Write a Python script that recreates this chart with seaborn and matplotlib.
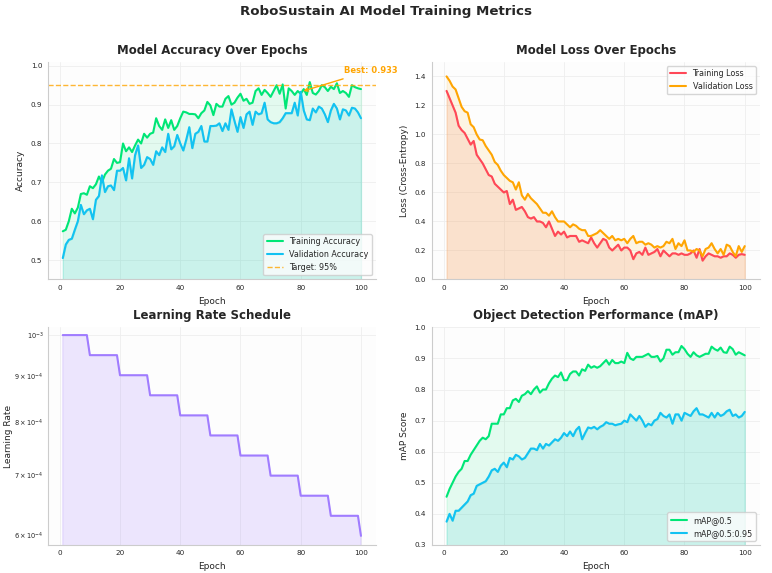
import numpy as np
import pandas as pd
import seaborn as sns
import matplotlib.pyplot as plt

epochs = list(range(1, 101))

train_acc = [0.574, 0.578, 0.600, 0.632, 0.620, 0.635, 0.670, 0.672, 0.668, 0.690,
             0.685, 0.695, 0.715, 0.700, 0.720, 0.730, 0.735, 0.760, 0.750, 0.752,
             0.800, 0.780, 0.790, 0.778, 0.795, 0.810, 0.800, 0.825, 0.815, 0.825,
             0.828, 0.865, 0.845, 0.835, 0.862, 0.840, 0.860, 0.835, 0.845, 0.865,
             0.882, 0.880, 0.876, 0.876, 0.875, 0.865, 0.878, 0.885, 0.907, 0.898,
             0.873, 0.902, 0.895, 0.895, 0.915, 0.922, 0.900, 0.905, 0.918, 0.928,
             0.910, 0.915, 0.902, 0.905, 0.935, 0.942, 0.925, 0.938, 0.930, 0.920,
             0.935, 0.950, 0.928, 0.952, 0.890, 0.942, 0.935, 0.925, 0.935, 0.928,
             0.940, 0.925, 0.958, 0.930, 0.926, 0.935, 0.950, 0.945, 0.935, 0.946,
             0.940, 0.955, 0.930, 0.935, 0.930, 0.920, 0.950, 0.945, 0.942, 0.940]

val_acc = [0.505, 0.540, 0.552, 0.555, 0.578, 0.600, 0.642, 0.618, 0.628, 0.632,
           0.605, 0.655, 0.665, 0.718, 0.675, 0.690, 0.692, 0.680, 0.730, 0.730,
           0.737, 0.705, 0.762, 0.710, 0.770, 0.795, 0.737, 0.745, 0.765, 0.760,
           0.745, 0.780, 0.770, 0.790, 0.778, 0.825, 0.785, 0.793, 0.822, 0.800,
           0.782, 0.810, 0.842, 0.788, 0.825, 0.830, 0.845, 0.805, 0.805, 0.845,
           0.845, 0.846, 0.852, 0.832, 0.852, 0.835, 0.888, 0.858, 0.830, 0.868,
           0.840, 0.875, 0.882, 0.848, 0.882, 0.875, 0.878, 0.905, 0.862, 0.855,
           0.852, 0.852, 0.855, 0.865, 0.878, 0.878, 0.878, 0.905, 0.872, 0.933,
           0.885, 0.862, 0.860, 0.890, 0.880, 0.895, 0.890, 0.875, 0.855, 0.885,
           0.902, 0.890, 0.862, 0.888, 0.885, 0.872, 0.892, 0.890, 0.880, 0.865]

train_loss = [1.30, 1.25, 1.20, 1.15, 1.06, 1.03, 1.01, 0.97, 0.93, 0.955,
              0.86, 0.83, 0.80, 0.76, 0.72, 0.71, 0.66, 0.64, 0.62, 0.60,
              0.61, 0.52, 0.55, 0.48, 0.49, 0.50, 0.47, 0.43, 0.42, 0.43,
              0.40, 0.40, 0.39, 0.36, 0.40, 0.35, 0.30, 0.33, 0.31, 0.33,
              0.29, 0.30, 0.30, 0.30, 0.26, 0.27, 0.26, 0.25, 0.29, 0.25,
              0.22, 0.25, 0.28, 0.27, 0.22, 0.20, 0.22, 0.24, 0.20, 0.22,
              0.22, 0.20, 0.14, 0.18, 0.19, 0.17, 0.22, 0.17, 0.18, 0.19,
              0.21, 0.16, 0.20, 0.18, 0.16, 0.18, 0.18, 0.17, 0.18, 0.17,
              0.17, 0.18, 0.20, 0.15, 0.21, 0.13, 0.16, 0.18, 0.17, 0.16,
              0.16, 0.15, 0.16, 0.16, 0.18, 0.17, 0.15, 0.17, 0.175, 0.17]

val_loss = [1.40, 1.37, 1.33, 1.31, 1.25, 1.19, 1.16, 1.15, 1.07, 1.05,
            1.00, 0.965, 0.96, 0.92, 0.89, 0.86, 0.81, 0.79, 0.75, 0.72,
            0.70, 0.68, 0.67, 0.62, 0.67, 0.58, 0.55, 0.59, 0.56, 0.54,
            0.52, 0.49, 0.46, 0.46, 0.44, 0.47, 0.43, 0.40, 0.40, 0.40,
            0.38, 0.36, 0.38, 0.37, 0.35, 0.34, 0.34, 0.30, 0.30, 0.31,
            0.32, 0.34, 0.32, 0.30, 0.28, 0.30, 0.27, 0.28, 0.27, 0.28,
            0.25, 0.28, 0.30, 0.25, 0.26, 0.26, 0.24, 0.25, 0.24, 0.22,
            0.23, 0.22, 0.23, 0.26, 0.25, 0.28, 0.21, 0.25, 0.23, 0.27,
            0.20, 0.20, 0.19, 0.21, 0.20, 0.16, 0.21, 0.22, 0.25, 0.21,
            0.18, 0.21, 0.17, 0.24, 0.23, 0.19, 0.16, 0.23, 0.19, 0.23]

learning_rate = ([1.0e-3] * 9 + [9.5e-4] * 10 + [9.025e-4] * 10 + [8.574e-4] * 10
                 + [8.145e-4] * 10 + [7.738e-4] * 10 + [7.351e-4] * 10 + [6.983e-4] * 10
                 + [6.634e-4] * 10 + [6.302e-4] * 10 + [5.987e-4])

map50 = [0.455, 0.480, 0.500, 0.520, 0.535, 0.545, 0.570, 0.570, 0.590, 0.605,
         0.620, 0.635, 0.645, 0.640, 0.650, 0.690, 0.690, 0.690, 0.720, 0.720,
         0.740, 0.740, 0.765, 0.770, 0.760, 0.780, 0.785, 0.795, 0.785, 0.800,
         0.810, 0.790, 0.800, 0.800, 0.820, 0.835, 0.845, 0.840, 0.855, 0.830,
         0.830, 0.850, 0.858, 0.858, 0.845, 0.865, 0.860, 0.880, 0.870, 0.875,
         0.870, 0.875, 0.885, 0.895, 0.880, 0.895, 0.885, 0.885, 0.890, 0.885,
         0.918, 0.900, 0.895, 0.905, 0.905, 0.905, 0.910, 0.915, 0.905, 0.905,
         0.908, 0.890, 0.900, 0.928, 0.928, 0.912, 0.920, 0.920, 0.940, 0.930,
         0.915, 0.905, 0.920, 0.910, 0.905, 0.910, 0.915, 0.915, 0.938, 0.930,
         0.925, 0.935, 0.920, 0.918, 0.938, 0.930, 0.912, 0.920, 0.915, 0.910]

map50_95 = [0.375, 0.400, 0.378, 0.410, 0.410, 0.420, 0.430, 0.440, 0.460, 0.465,
            0.490, 0.495, 0.500, 0.505, 0.520, 0.540, 0.545, 0.535, 0.555, 0.565,
            0.550, 0.580, 0.575, 0.590, 0.585, 0.575, 0.580, 0.595, 0.610, 0.610,
            0.605, 0.625, 0.610, 0.625, 0.620, 0.630, 0.640, 0.635, 0.645, 0.660,
            0.650, 0.665, 0.650, 0.670, 0.680, 0.640, 0.660, 0.678, 0.675, 0.680,
            0.672, 0.680, 0.685, 0.695, 0.690, 0.690, 0.685, 0.688, 0.690, 0.700,
            0.695, 0.720, 0.710, 0.700, 0.715, 0.700, 0.680, 0.690, 0.685, 0.700,
            0.705, 0.725, 0.715, 0.710, 0.720, 0.690, 0.720, 0.720, 0.700, 0.725,
            0.720, 0.715, 0.730, 0.740, 0.720, 0.720, 0.715, 0.710, 0.725, 0.710,
            0.725, 0.715, 0.720, 0.730, 0.735, 0.715, 0.720, 0.710, 0.715, 0.728]

target_acc = 0.95
best_epoch = 80
best_val = 0.933

GREEN = "#00E676"
BLUE = "#12C2F2"
TEAL = "#00C9A7"
RED = "#FF4757"
ORANGE = "#FFA502"
PEACH = "#F4A261"
PURPLE = "#A07CFF"

sns.set_theme(style="whitegrid")
plt.rcParams['font.family'] = ['DejaVu Sans']
plt.rcParams['axes.facecolor'] = '#FDFDFD'
plt.rcParams['grid.color'] = '#EEEEEE'
plt.rcParams['grid.linewidth'] = 0.6

df = pd.DataFrame({
    'epoch': epochs,
    'train_acc': train_acc,
    'val_acc': val_acc,
    'train_loss': train_loss,
    'val_loss': val_loss,
    'lr': learning_rate,
    'map50': map50,
    'map50_95': map50_95,
})

fig, axes = plt.subplots(2, 2, figsize=(7.72, 5.73), dpi=100)
fig.subplots_adjust(left=0.062, right=0.984, top=0.892, bottom=0.049,
                    wspace=0.17, hspace=0.22)
fig.suptitle('RoboSustain AI Model Training Metrics', fontsize=9.6,
             fontweight='bold', y=0.992)

title_kw = dict(fontsize=8.5, fontweight='bold', pad=6)
label_fs = 6.5
tick_fs = 5.2
leg_fs = 5.8

# accuracy
ax = axes[0, 0]
ax.fill_between(df['epoch'], df['val_acc'], df['train_acc'], color=GREEN, alpha=0.1)
ax.fill_between(df['epoch'], 0, df['val_acc'], color=TEAL, alpha=0.2)
sns.lineplot(data=df, x='epoch', y='train_acc', ax=ax, color=GREEN, linewidth=1.5,
             label='Training Accuracy')
sns.lineplot(data=df, x='epoch', y='val_acc', ax=ax, color=BLUE, linewidth=1.5,
             label='Validation Accuracy')
ax.axhline(target_acc, color=ORANGE, linestyle='--', linewidth=1, alpha=0.8,
           label='Target: 95%')
ax.annotate(f'Best: {best_val:.3f}', xy=(best_epoch, best_val), xytext=(94.5, 0.982),
            color=ORANGE, fontsize=6, fontweight='bold',
            arrowprops=dict(arrowstyle='->', color=ORANGE, lw=1))
ax.set_ylim(0.45, 1.01)
ax.set_title('Model Accuracy Over Epochs', **title_kw)
ax.set_ylabel('Accuracy', fontsize=label_fs)
ax.legend(loc='lower right', fontsize=leg_fs)

# loss
ax = axes[0, 1]
ax.fill_between(df['epoch'], df['train_loss'], df['val_loss'], color=ORANGE, alpha=0.1)
ax.fill_between(df['epoch'], 0, df['train_loss'], color=PEACH, alpha=0.3)
sns.lineplot(data=df, x='epoch', y='train_loss', ax=ax, color=RED, linewidth=1.5,
             label='Training Loss')
sns.lineplot(data=df, x='epoch', y='val_loss', ax=ax, color=ORANGE, linewidth=1.5,
             label='Validation Loss')
ax.set_ylim(0, 1.5)
ax.set_title('Model Loss Over Epochs', **title_kw)
ax.set_ylabel('Loss (Cross-Entropy)', fontsize=label_fs)
ax.legend(loc='upper right', fontsize=leg_fs)

# learning rate
ax = axes[1, 0]
ax.fill_between(df['epoch'], 1e-4, df['lr'], color=PURPLE, alpha=0.18)
sns.lineplot(data=df, x='epoch', y='lr', ax=ax, color=PURPLE, linewidth=1.5)
ax.set_yscale('log')
ax.set_ylim(5.85e-4, 1.02e-3)
ax.set_title('Learning Rate Schedule', **title_kw)

# mAP
ax = axes[1, 1]
ax.fill_between(df['epoch'], df['map50_95'], df['map50'], color=GREEN, alpha=0.1)
ax.fill_between(df['epoch'], 0, df['map50_95'], color=TEAL, alpha=0.2)
sns.lineplot(data=df, x='epoch', y='map50', ax=ax, color=GREEN, linewidth=1.5,
             label='mAP@0.5')
sns.lineplot(data=df, x='epoch', y='map50_95', ax=ax, color=BLUE, linewidth=1.5,
             label='mAP@0.5:0.95')
ax.set_ylim(0.3, 1.0)
ax.set_title('Object Detection Performance (mAP)', **title_kw)
ax.set_ylabel('mAP Score', fontsize=label_fs)
ax.legend(loc='lower right', fontsize=leg_fs)

for ax in axes.flat:
    ax.set_xlabel('Epoch', fontsize=label_fs)
    ax.tick_params(axis='both', which='both', labelsize=tick_fs, length=2, pad=2)
    ax.set_xticks([0, 20, 40, 60, 80, 100])
    sns.despine(ax=ax)
    for s in ['left', 'bottom']:
        ax.spines[s].set_color('#CCCCCC')
        ax.spines[s].set_linewidth(0.8)

axes[1, 0].tick_params(axis='y', which='both', labelsize=4.8, pad=1)
axes[1, 0].set_ylabel('Learning Rate', fontsize=label_fs, labelpad=1)

plt.savefig('out.png', dpi=100)
